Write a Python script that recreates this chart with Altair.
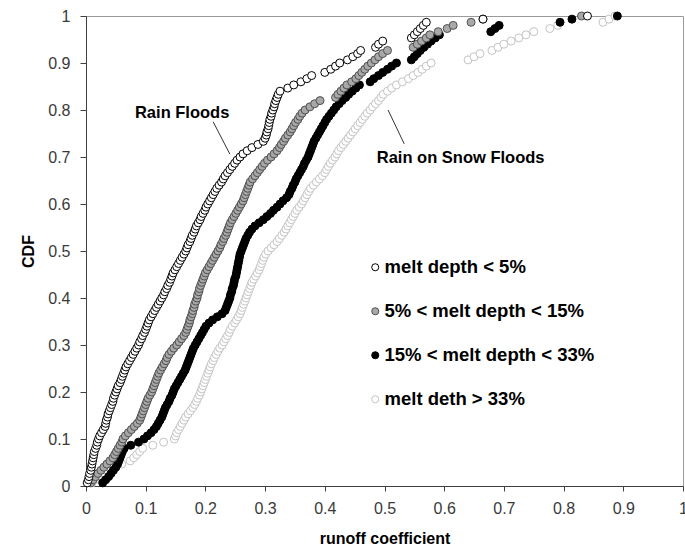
import altair as alt
import pandas as pd

# ---------------- data (runoff coefficients) ----------------
series_names = ["\u00a0melt depth < 5%", "5% < melt depth < 15%",
                "15% < melt depth < 33%", "melt deth > 33%"]

melt_lt5 = [
    0.002, 0.004, 0.005, 0.006, 0.008, 0.009, 0.010, 0.011, 0.012, 0.013, 0.014, 0.016, 0.018, 0.019, 0.021,
    0.023, 0.026, 0.029, 0.032, 0.033, 0.034, 0.036, 0.037, 0.039, 0.041, 0.043, 0.045, 0.046, 0.048, 0.050,
    0.052, 0.054, 0.057, 0.059, 0.061, 0.063, 0.065, 0.067, 0.070, 0.073, 0.076, 0.079, 0.082, 0.085, 0.088,
    0.090, 0.093, 0.095, 0.098, 0.100, 0.102, 0.104, 0.106, 0.109, 0.112, 0.115, 0.118, 0.121, 0.124, 0.127,
    0.130, 0.132, 0.135, 0.137, 0.140, 0.142, 0.144, 0.146, 0.149, 0.152, 0.155, 0.158, 0.161, 0.164, 0.167,
    0.169, 0.171, 0.174, 0.176, 0.178, 0.181, 0.183, 0.185, 0.188, 0.191, 0.193, 0.196, 0.199, 0.201, 0.204,
    0.207, 0.210, 0.213, 0.216, 0.219, 0.223, 0.227, 0.230, 0.233, 0.237, 0.241, 0.245, 0.249, 0.253, 0.258,
    0.263, 0.270, 0.278, 0.288, 0.297,
    0.300, 0.302, 0.303, 0.305, 0.306, 0.307, 0.308, 0.310, 0.311, 0.313, 0.315, 0.316, 0.318, 0.320, 0.322, 0.325,
    0.338, 0.348, 0.360, 0.370, 0.378, 0.400, 0.410, 0.418, 0.425, 0.438, 0.447, 0.455, 0.460, 0.485, 0.490,
    0.497, 0.545, 0.550, 0.555, 0.560, 0.565, 0.570, 0.665, 0.840,
]

melt_5_15 = [
    0.008, 0.012, 0.016, 0.020, 0.025, 0.030, 0.035, 0.040, 0.045, 0.048, 0.051, 0.054, 0.057, 0.060, 0.062,
    0.066, 0.071, 0.076, 0.081, 0.086, 0.090, 0.092, 0.094, 0.096, 0.098, 0.100, 0.102, 0.104, 0.107, 0.110,
    0.112, 0.114, 0.116, 0.118, 0.120, 0.122, 0.125, 0.128, 0.131, 0.134, 0.136, 0.139, 0.143, 0.147, 0.152,
    0.156, 0.160, 0.164, 0.167, 0.169, 0.171, 0.173, 0.174, 0.176, 0.178, 0.179, 0.181, 0.182, 0.184, 0.186,
    0.187, 0.189, 0.190, 0.192, 0.194, 0.196, 0.198, 0.200, 0.203, 0.206, 0.209, 0.212, 0.215, 0.218, 0.221,
    0.224, 0.226, 0.229, 0.231, 0.234, 0.236, 0.238, 0.240, 0.242, 0.245, 0.248, 0.251, 0.254, 0.257, 0.260,
    0.263, 0.265, 0.267, 0.269, 0.271, 0.273, 0.275, 0.279, 0.283, 0.287, 0.291, 0.295, 0.299, 0.304, 0.310,
    0.315, 0.320, 0.324, 0.327, 0.331, 0.334, 0.338, 0.342, 0.345, 0.348, 0.351, 0.355, 0.358, 0.362, 0.367,
    0.375, 0.383, 0.392, 0.418, 0.422, 0.427, 0.432, 0.437, 0.445, 0.452, 0.457, 0.462, 0.467, 0.472, 0.478,
    0.484, 0.490, 0.497, 0.505, 0.548, 0.555, 0.562, 0.570, 0.576, 0.590, 0.605, 0.615, 0.645, 0.665, 0.830,
]

melt_15_33 = [
    0.028, 0.033, 0.038, 0.042, 0.046, 0.050, 0.053, 0.055, 0.057, 0.059, 0.061, 0.064, 0.075, 0.088, 0.097,
    0.103, 0.109, 0.114, 0.118, 0.121, 0.124, 0.127, 0.129, 0.131, 0.133, 0.136, 0.139, 0.141, 0.144, 0.146,
    0.148, 0.151, 0.154, 0.157, 0.160, 0.163, 0.166, 0.168, 0.170, 0.172, 0.174, 0.176, 0.178, 0.180, 0.183,
    0.186, 0.189, 0.192, 0.195, 0.198, 0.201, 0.206, 0.212, 0.220, 0.228, 0.233, 0.235, 0.237, 0.239, 0.241,
    0.242, 0.244, 0.245, 0.247, 0.248, 0.249, 0.251, 0.252, 0.253, 0.254, 0.255, 0.256, 0.257, 0.258, 0.260,
    0.262, 0.264, 0.266, 0.268, 0.271, 0.274, 0.278, 0.283, 0.290, 0.297, 0.303, 0.309, 0.314, 0.320, 0.325,
    0.330, 0.336, 0.340, 0.342, 0.345, 0.347, 0.350, 0.352, 0.355, 0.358, 0.361, 0.364, 0.366, 0.369, 0.372,
    0.374, 0.376, 0.378, 0.380, 0.382, 0.385, 0.388, 0.391, 0.394, 0.397, 0.400, 0.403, 0.407, 0.411, 0.415,
    0.419, 0.424, 0.429, 0.435, 0.440, 0.446, 0.452, 0.458, 0.476, 0.482, 0.490, 0.497, 0.505, 0.512, 0.520,
    0.545, 0.550, 0.555, 0.560, 0.566, 0.572, 0.578, 0.585, 0.592, 0.678, 0.685, 0.692, 0.794, 0.814, 0.890,
]

melt_gt33 = [
    0.010, 0.015, 0.020, 0.028, 0.035, 0.045, 0.060, 0.074, 0.080, 0.085, 0.090, 0.095, 0.112, 0.130, 0.148,
    0.150, 0.152, 0.155, 0.158, 0.161, 0.164, 0.167, 0.171, 0.175, 0.179, 0.182, 0.185, 0.187, 0.190, 0.192,
    0.194, 0.196, 0.198, 0.200, 0.202, 0.204, 0.206, 0.208, 0.210, 0.213, 0.215, 0.218, 0.221, 0.224, 0.228,
    0.231, 0.234, 0.237, 0.240, 0.242, 0.245, 0.249, 0.252, 0.255, 0.258, 0.260, 0.262, 0.264, 0.266, 0.268,
    0.270, 0.272, 0.274, 0.276, 0.278, 0.281, 0.284, 0.287, 0.290, 0.292, 0.294, 0.296, 0.298, 0.301, 0.305,
    0.310, 0.315, 0.320, 0.324, 0.328, 0.332, 0.335, 0.338, 0.341, 0.344, 0.347, 0.350, 0.353, 0.357, 0.361,
    0.364, 0.367, 0.370, 0.373, 0.376, 0.381, 0.386, 0.391, 0.396, 0.400, 0.403, 0.406, 0.409, 0.413, 0.417,
    0.420, 0.423, 0.427, 0.431, 0.435, 0.439, 0.443, 0.447, 0.451, 0.455, 0.459, 0.463, 0.467, 0.471, 0.476,
    0.480, 0.485, 0.490, 0.494, 0.498, 0.505, 0.512, 0.520, 0.530, 0.540, 0.548, 0.556, 0.563, 0.570, 0.578,
    0.640, 0.650, 0.660, 0.680, 0.690, 0.700, 0.712, 0.725, 0.737, 0.750, 0.777, 0.790, 0.866, 0.876, 0.886,
]

tick_values = [0, 0.1, 0.2, 0.3, 0.4, 0.5, 0.6, 0.7, 0.8, 0.9, 1]

annot_text = ["Rain Floods", "Rain on Snow Floods"]
annot_x = [0.082, 0.487]
annot_y = [0.783, 0.687]
leader_x = [0.213, 0.506]
leader_y = [0.775, 0.800]
leader_x2 = [0.241, 0.533]
leader_y2 = [0.706, 0.728]

# ---------------- styles ----------------
fills = ["#ffffff", "#a8a8a8", "#000000", "#ffffff"]
strokes = ["#000000", "#505050", "#000000", "#c4c4c4"]
FONT = "Liberation Sans"

all_series = [melt_lt5, melt_5_15, melt_15_33, melt_gt33]
rows = []
for idx, (name, vals) in enumerate(zip(series_names, all_series)):
    for v in vals:
        rows.append({"series": name, "coef": v, "draw": 4 - idx})
df = pd.DataFrame(rows)

xscale = alt.Scale(domain=[0, 1], nice=False, zero=False)
yscale = alt.Scale(domain=[0, 1], nice=False, zero=False)

xaxis = alt.Axis(values=tick_values, format="~g", grid=False, tickSize=5, labelPadding=9,
                 labelFlush=False, labelOverlap=False,
                 titleX=298.5, titleY=57, titleBaseline="alphabetic")
yaxis = alt.Axis(values=tick_values, format="~g", grid=False, tickSize=6, labelPadding=10,
                 labelFlush=False, labelOverlap=False,
                 titleX=-53, titleY=235, titleBaseline="alphabetic", titleAngle=270)

leg = alt.Legend(orient="none", legendX=280, legendY=242, padding=0, rowPadding=25,
                 labelFontSize=18.5, labelFont=FONT, labelFontWeight="bold", labelColor="#000000",
                 labelLimit=0, symbolSize=50, symbolStrokeWidth=1, labelOffset=0,
                 symbolType="circle")

points = (
    alt.Chart(df)
    .transform_window(rank="row_number()", sort=[alt.SortField("coef", order="ascending")],
                      groupby=["series"])
    .transform_joinaggregate(n="count()", groupby=["series"])
    .transform_calculate(cdf="datum.rank / datum.n")
    .mark_point(filled=True, shape="circle", size=64, strokeWidth=1, opacity=1, fillOpacity=1,
                strokeOpacity=1)
    .encode(
        x=alt.X("coef:Q", scale=xscale, axis=xaxis, title="runoff coefficient"),
        y=alt.Y("cdf:Q", scale=yscale, axis=yaxis, title="CDF"),
        fill=alt.Fill("series:N", scale=alt.Scale(domain=series_names, range=fills),
                      legend=leg, title=None),
        stroke=alt.Stroke("series:N", scale=alt.Scale(domain=series_names, range=strokes),
                          legend=leg, title=None),
        order=alt.Order("draw:Q"),
    )
)

ann_df = pd.DataFrame({"label": annot_text, "coef": annot_x, "cdf": annot_y})
texts = alt.Chart(ann_df).mark_text(align="left", baseline="alphabetic", font=FONT,
                                    fontSize=16.5, fontWeight="bold", color="#000000").encode(
    x=alt.X("coef:Q", scale=xscale, title="runoff coefficient"),
    y=alt.Y("cdf:Q", scale=yscale, title="CDF"),
    text="label:N",
)

lead_df = pd.DataFrame({"coef": leader_x, "cdf": leader_y, "coef2": leader_x2, "cdf2": leader_y2})
leaders = alt.Chart(lead_df).mark_rule(color="#333333", strokeWidth=1).encode(
    x=alt.X("coef:Q", scale=xscale, title="runoff coefficient"),
    y=alt.Y("cdf:Q", scale=yscale, title="CDF"),
    x2="coef2:Q",
    y2="cdf2:Q",
)

chart = (
    alt.layer(leaders, points, texts)
    .properties(width=597, height=470, autosize=alt.AutoSizeParams(type="none"),
                padding={"left": 86, "top": 16, "right": 2, "bottom": 61})
    .configure(background="#ffffff")
    .configure_view(stroke="#9a9a9a", strokeWidth=1)
    .configure_axis(labelFont=FONT, labelFontSize=16, labelColor="#3a3a3a",
                    titleFont=FONT, titleFontSize=16, titleFontWeight="bold", titleColor="#000000",
                    domainColor="#404040", tickColor="#404040", domainWidth=1, tickWidth=1)
)

chart.save("out.html", embed_options={"renderer": "svg", "actions": False})
